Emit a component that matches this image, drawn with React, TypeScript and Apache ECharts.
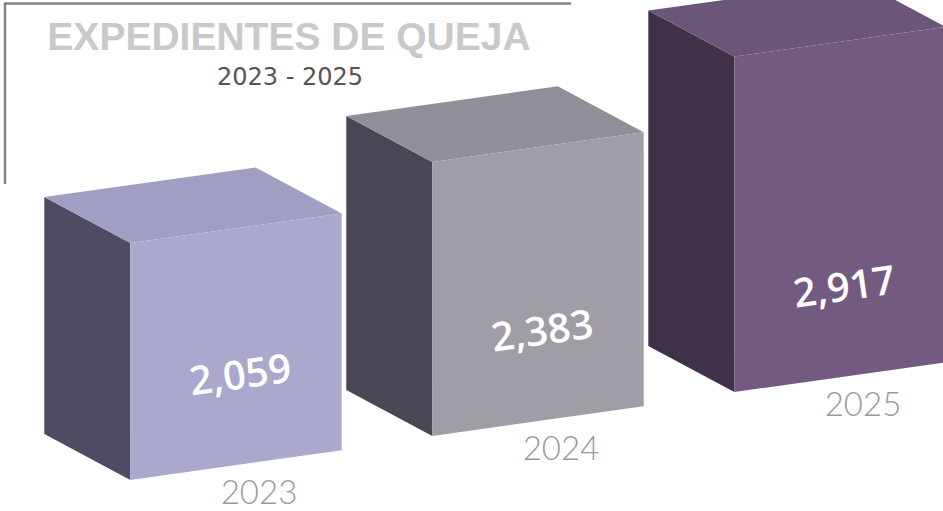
import React, { useEffect, useRef } from "react";
import * as echarts from "echarts";

// ---- data ----
const YEARS: string[] = ["2023", "2024", "2025"];
const VALUES: number[] = [2059, 2383, 2917];
const TITLE = "EXPEDIENTES DE QUEJA";
const SUBTITLE = "2023 - 2025";

// ---- styles ----
const FRONT_COLORS = ["#aaa8cd", "#a09da6", "#725a81"];
const TOP_COLORS = ["#a09ec3", "#928e99", "#6b5579"];
const SIDE_COLORS = ["#504b63", "#4b4654", "#3f3248"];
const FACE_RATIO = 0.7;
const BASE_SLOPE = 0.1455;
const FACE_SLOPE = 0.14;
const DEPTH: [number, number] = [-86, -46];

const fmt = (v: number) => v.toLocaleString("en-US");

export default function App() {
  const ref = useRef<HTMLDivElement>(null);
  useEffect(() => {
    document.body.style.margin = "0";
    if (!ref.current) return;
    const chart = echarts.init(ref.current, undefined, { renderer: "svg" });

    const renderItem = (params: any, api: any) => {
      const idx = params.dataIndex;
      const cs = params.coordSys;
      const xi = api.value(0);
      const v = api.value(1);
      const c0 = api.coord([xi, 0]);
      const c1 = api.coord([xi, v]);
      const band = api.size([1, 0])[0];
      const w = band * FACE_RATIO;
      const xl = c0[0] - w / 2;
      const xr = c0[0] + w / 2;
      const h = c0[1] - c1[1];
      const bl = c0[1] - BASE_SLOPE * (xl - cs.x);
      const br = bl - FACE_SLOPE * w;
      const tl = bl - h;
      const tr = br - h;
      const [dx, dy] = DEPTH;
      const midBottom = (bl + br) / 2;
      return {
        type: "group",
        children: [
          {
            type: "polygon",
            shape: { points: [[xl, tl], [xl, bl], [xl + dx, bl + dy], [xl + dx, tl + dy]] },
            style: { fill: SIDE_COLORS[idx] },
          },
          {
            type: "polygon",
            shape: { points: [[xl, tl], [xr, tr], [xr + dx, tr + dy], [xl + dx, tl + dy]] },
            style: { fill: TOP_COLORS[idx] },
          },
          {
            type: "polygon",
            shape: { points: [[xl, bl], [xr, br], [xr, tr], [xl, tl]] },
            style: { fill: FRONT_COLORS[idx] },
          },
          {
            type: "text",
            x: c0[0] + 4,
            y: midBottom - 92,
            rotation: 0.14,
            style: {
              text: fmt(VALUES[idx]),
              fill: "#ffffff",
              fontSize: 40,
              fontWeight: 600,
              fontFamily: "Open Sans",
              align: "center",
              verticalAlign: "middle",
            },
          },
          {
            type: "text",
            x: c0[0] + 23,
            y: midBottom + 26,
            style: {
              text: YEARS[idx],
              fill: "#999999",
              fontSize: 33,
              fontWeight: 300,
              fontFamily: "Lato",
              align: "center",
              verticalAlign: "middle",
            },
          },
        ],
      };
    };

    chart.setOption({
      animation: false,
      backgroundColor: "#ffffff",
      grid: { left: 85, top: 141.5, width: 906, height: 345, outerBoundsMode: "none" },
      xAxis: { type: "category", data: YEARS, show: false },
      yAxis: { type: "value", min: 0, max: 3000, show: false },
      graphic: [
        {
          type: "polyline",
          shape: { points: [[571, 3.5], [5, 3.5], [5, 184]] },
          style: { stroke: "#858585", lineWidth: 2.5, fill: "none" },
        },
        {
          type: "text",
          x: 289,
          y: 36,
          style: {
            text: TITLE,
            fill: "#c9c9c9",
            fontSize: 39,
            fontWeight: "bold",
            fontFamily: "Liberation Sans",
            align: "center",
            verticalAlign: "middle",
          },
        },
        {
          type: "text",
          x: 290,
          y: 77,
          style: {
            text: SUBTITLE,
            fill: "#555555",
            fontSize: 24,
            fontFamily: "DejaVu Sans",
            align: "center",
            verticalAlign: "middle",
          },
        },
      ],
      series: [
        {
          type: "custom",
          clip: false,
          renderItem,
          encode: { x: 0, y: 1 },
          data: VALUES.map((v, i) => [i, v]),
        },
      ],
    });
    return () => chart.dispose();
  }, []);
  return (
    <div
      ref={ref}
      style={{ position: "absolute", left: 0, top: 0, width: 943, height: 511 }}
    />
  );
}
